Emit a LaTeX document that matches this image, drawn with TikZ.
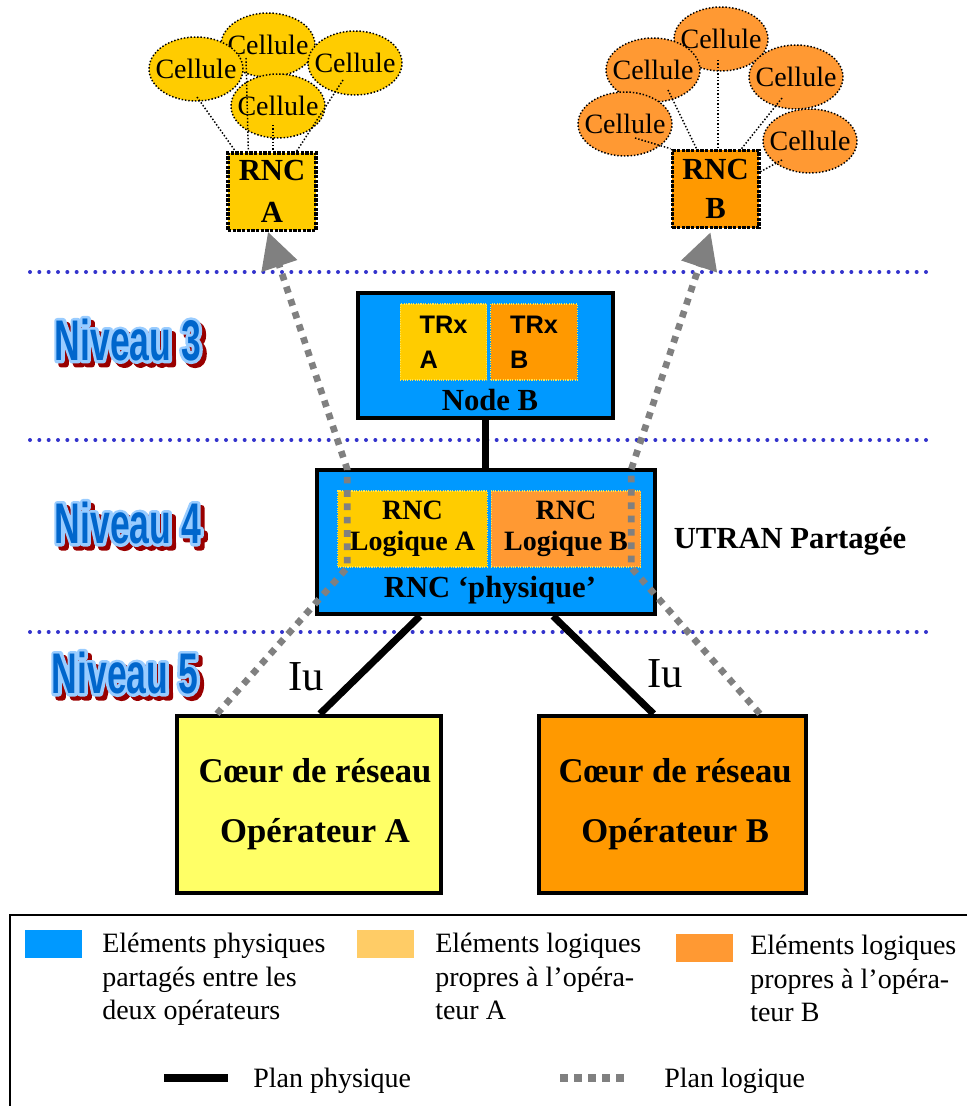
\documentclass[tikz,border=0pt]{standalone}
\usepackage{fontspec}
\setmainfont{Liberation Serif}
\newfontfamily\arialfont{Liberation Sans}
\newfontfamily\nivfont[FakeStretch=0.62]{Liberation Sans}
\usepackage{tikz}
\usetikzlibrary{
  calc,
  arrows.meta,
  positioning,
  shapes.geometric
}
\definecolor{physblue}{HTML}{0099FF}
\definecolor{opAyellow}{HTML}{FFCC00}
\definecolor{opBorange}{HTML}{FF9900}
\definecolor{cellorange}{HTML}{FF9933}
\definecolor{coreyellow}{HTML}{FFFF66}
\definecolor{legendyellow}{HTML}{FFCC66}
\definecolor{levelblue}{HTML}{3333CC}
\definecolor{nivblue}{HTML}{0066CC}
\definecolor{nivrimblue}{HTML}{99CCFF}
\definecolor{nivred}{HTML}{990000}
\definecolor{inneredge}{HTML}{FFE34D}
% stroked text (fill + outline in the current colour)
\newcommand\rimtext[1]{\special{pdf:literal direct 4.5 w 1 j 2 Tr}#1\special{pdf:literal direct 0 Tr}}
\tikzset{
  cell/.style={ellipse, draw, line width=1.1pt, dash pattern=on 1.1pt off 1.4pt,
    minimum width=70.5pt, minimum height=48pt, inner xsep=-6pt, inner ysep=0pt,
    font=\fontsize{21}{21}\selectfont},
  rncbox/.style={rectangle, draw, line width=2.5pt, densely dotted,
    minimum width=66pt, minimum height=58pt, inner sep=0pt, align=center,
    font=\bfseries\fontsize{23}{29}\selectfont},
  physbox/.style={rectangle, draw, line width=3pt, fill=physblue},
  logbox/.style={rectangle, draw=inneredge, densely dotted, line width=0.8pt,
    inner sep=0pt},
  corebox/.style={rectangle, draw, line width=3pt, minimum width=198pt,
    minimum height=133pt, align=center, font=\bfseries\fontsize{26}{45}\selectfont},
  link/.style={line width=1.1pt, dash pattern=on 1.1pt off 1.4pt},
  phys/.style={line width=5.25pt},
  logic/.style={draw=gray, line width=5pt, dash pattern=on 5pt off 5pt,
    -{Triangle[length=27pt, width=27pt]}}
}

\begin{document}
\begin{tikzpicture}[
    x=0.75pt, y=-0.75pt,
    level/.style={draw=levelblue, line width=3pt, line cap=round,
                  dash pattern=on 0pt off 7pt},
    boxlabel/.style={inner sep=0pt, font=\bfseries\fontsize{23}{23}\selectfont},
    trx/.style={logbox, minimum width=65pt, minimum height=57pt, align=left,
                font=\arialfont\bfseries\fontsize{19}{26}\selectfont},
    logique/.style={logbox, minimum width=112pt, minimum height=57pt, align=center,
                    font=\bfseries\fontsize{21}{23}\selectfont},
    iulabel/.style={inner sep=0pt, font=\fontsize{32}{32}\selectfont},
    nivtext/.style={inner sep=0pt, text=nivblue,
                    font=\nivfont\bfseries\fontsize{43}{43}\selectfont},
    nivrim/.style={nivtext, text=nivrimblue},
    nivshadow/.style={nivtext, text=nivred},
    swatch/.style={rectangle, inner sep=0pt, minimum width=43pt, minimum height=21pt},
    legtext/.style={inner sep=0pt, align=left, font=\fontsize{21}{25}\selectfont}
]
\useasboundingbox (0,0) rectangle (967,1106);

% levels
\foreach \ly in {272,440,632}
  \draw[level] (30,\ly) -- (935,\ly);

\foreach \n/\nx/\ny in {3/128/340, 4/128/523, 5/125/673} {
  \node[nivshadow] (nivs\n) at ($(\nx,\ny)+(4,4)$) {\rimtext{Niveau \n}};
  \node[nivrim] (nivr\n) at (\nx,\ny) {\rimtext{Niveau \n}};
  \node[nivtext] (niv\n) at (\nx,\ny) {Niveau \n};
}

% Node B
\node[physbox, minimum width=191pt, minimum height=94pt] (nodeB) at (485.5,355.5) {};
\node[trx, fill=opAyellow] (trxA) at (443.5,342) {TRx\\A};
\node[trx, fill=opBorange] (trxB) at (534,342) {TRx\\B};
\node[boxlabel] (nodeBtxt) at (490,400) {Node B};

% RNC physique
\node[physbox, minimum width=253.5pt, minimum height=108pt] (rncP) at (486,542) {};
\node[logique, fill=opAyellow] (logA) at (412.5,529) {RNC\\Logique A};
\node[logique, fill=cellorange] (logB) at (566,529) {RNC\\Logique B};
\node[boxlabel] (rncPtxt) at (490,590) {RNC ‘physique’};
\node[boxlabel] (utran) at (790,541) {UTRAN Partagée};

% coeurs de reseau
\node[corebox, fill=coreyellow] (coreA) at (309,804.5) {\hspace*{9pt}Cœur de réseau\\\hspace*{9pt}Opérateur A};
\node[corebox, fill=opBorange, minimum width=200pt] (coreB) at (672.5,804.5)
  {\hspace*{4pt}Cœur de réseau\\\hspace*{4pt}Opérateur B};

% physical links
\draw[phys] (nodeB.south) -- (nodeB.south |- rncP.north);
\draw[phys] ($(rncP.south)+(-66,0)$) -- ($(coreA.north)+(11,0)$);
\draw[phys] ($(rncP.south)+(67,0)$) -- ($(coreB.north)+(-19,0)$);
\node[iulabel] (iuA) at (306,677) {Iu};
\node[iulabel] (iuB) at (665,674) {Iu};

% cells of operator A
\node[cell, fill=opAyellow] (cA2) at (268,45) {Cellule};
\node[cell, fill=opAyellow] (cA1) at (196,69) {Cellule};
\node[cell, fill=opAyellow] (cA3) at (355,63) {Cellule};
\node[cell, fill=opAyellow] (cA4) at (278,106) {Cellule};
\node[rncbox, fill=opAyellow, font=\bfseries\fontsize{23}{31}\selectfont] (rncA) at (272,191.5) {RNC\\A};
\draw[link] ($(cA1)+(1,28)$) -- ($(rncA.north west)+(9,0)$);
\draw[link] ($(cA2)+(-22,13)$) -- ($(rncA.north west)+(22,0)$);
\draw[link] ($(cA4)+(-5,19)$) -- ($(rncA.north)+(1,0)$);
\draw[link] ($(cA3)+(-12,17)$) -- ($(rncA.north east)+(-21,0)$);

% cells of operator B
\node[cell, fill=cellorange] (cB1) at (721,39) {Cellule};
\node[cell, fill=cellorange] (cB2) at (653,70) {Cellule};
\node[cell, fill=cellorange] (cB3) at (625,124) {Cellule};
\node[cell, fill=cellorange] (cB4) at (796,77) {Cellule};
\node[cell, fill=cellorange] (cB5) at (810,141) {Cellule};
\node[rncbox, fill=opBorange, minimum width=65pt] (rncB) at (715.5,189) {RNC\\B};
\draw[link] ($(cB3)+(10,14)$) -- (rncB.north west);
\draw[link] ($(cB2)+(15,20)$) -- ($(rncB.north west)+(26,0)$);
\draw[link] ($(cB1)+(-3,21)$) -- ($(rncB.north)+(2.5,0)$);
\draw[link] ($(cB4)+(-14,21)$) -- ($(rncB.north east)+(-19,0)$);
\draw[link] ($(cB5)+(-28,19)$) -- ($(rncB.north east)+(0,23)$);

% logical links
\draw[logic] ($(coreA.north west)+(42,0)$) -- ($(logA.south west)+(10,0)$)
  -- ($(logA.north west)+(10,-21)$) -- ($(rncA.south)+(-4,0)$);
\draw[logic] ($(coreB.north east)+(-48,0)$) -- ($(logB.south east)+(-10,0)$)
  -- ($(logB.north east)+(-10,-21)$) -- ($(rncB.south)+(-5,3)$);

% legend
\draw[line width=1.5pt] (967,915) -- (10,915) -- (10,1106);
\node[swatch, fill=physblue] (swPhys) at (53.5,944) {};
\node[swatch, fill=legendyellow] (swLogA) at (385.5,944) {};
\node[swatch, fill=cellorange] (swLogB) at (704.5,947.5) {};
\node[legtext, anchor=north west] (txPhys) at (102,933)
  {Eléments physiques\\partagés entre les\\deux opérateurs};
\node[legtext, anchor=north west] (txLogA) at (435,933)
  {Eléments logiques\\propres à l’opéra-\\teur A};
\node[legtext, anchor=north west] (txLogB) at (750,935)
  {Eléments logiques\\propres à l’opéra-\\teur B};
\coordinate (physL) at (164,1078);
\coordinate (physR) at (228,1078);
\coordinate (logL) at (560,1078);
\coordinate (logR) at (625,1078);
\draw[line width=6pt] (physL) -- (physR);
\draw[draw=gray, line width=6pt, dash pattern=on 6pt off 4.5pt] (logL) -- (logR);
\node[legtext, anchor=base west] (txPlanP) at (253,1087) {Plan physique};
\node[legtext, anchor=base west] (txPlanL) at (664,1087) {Plan logique};

\end{tikzpicture}
\end{document}
